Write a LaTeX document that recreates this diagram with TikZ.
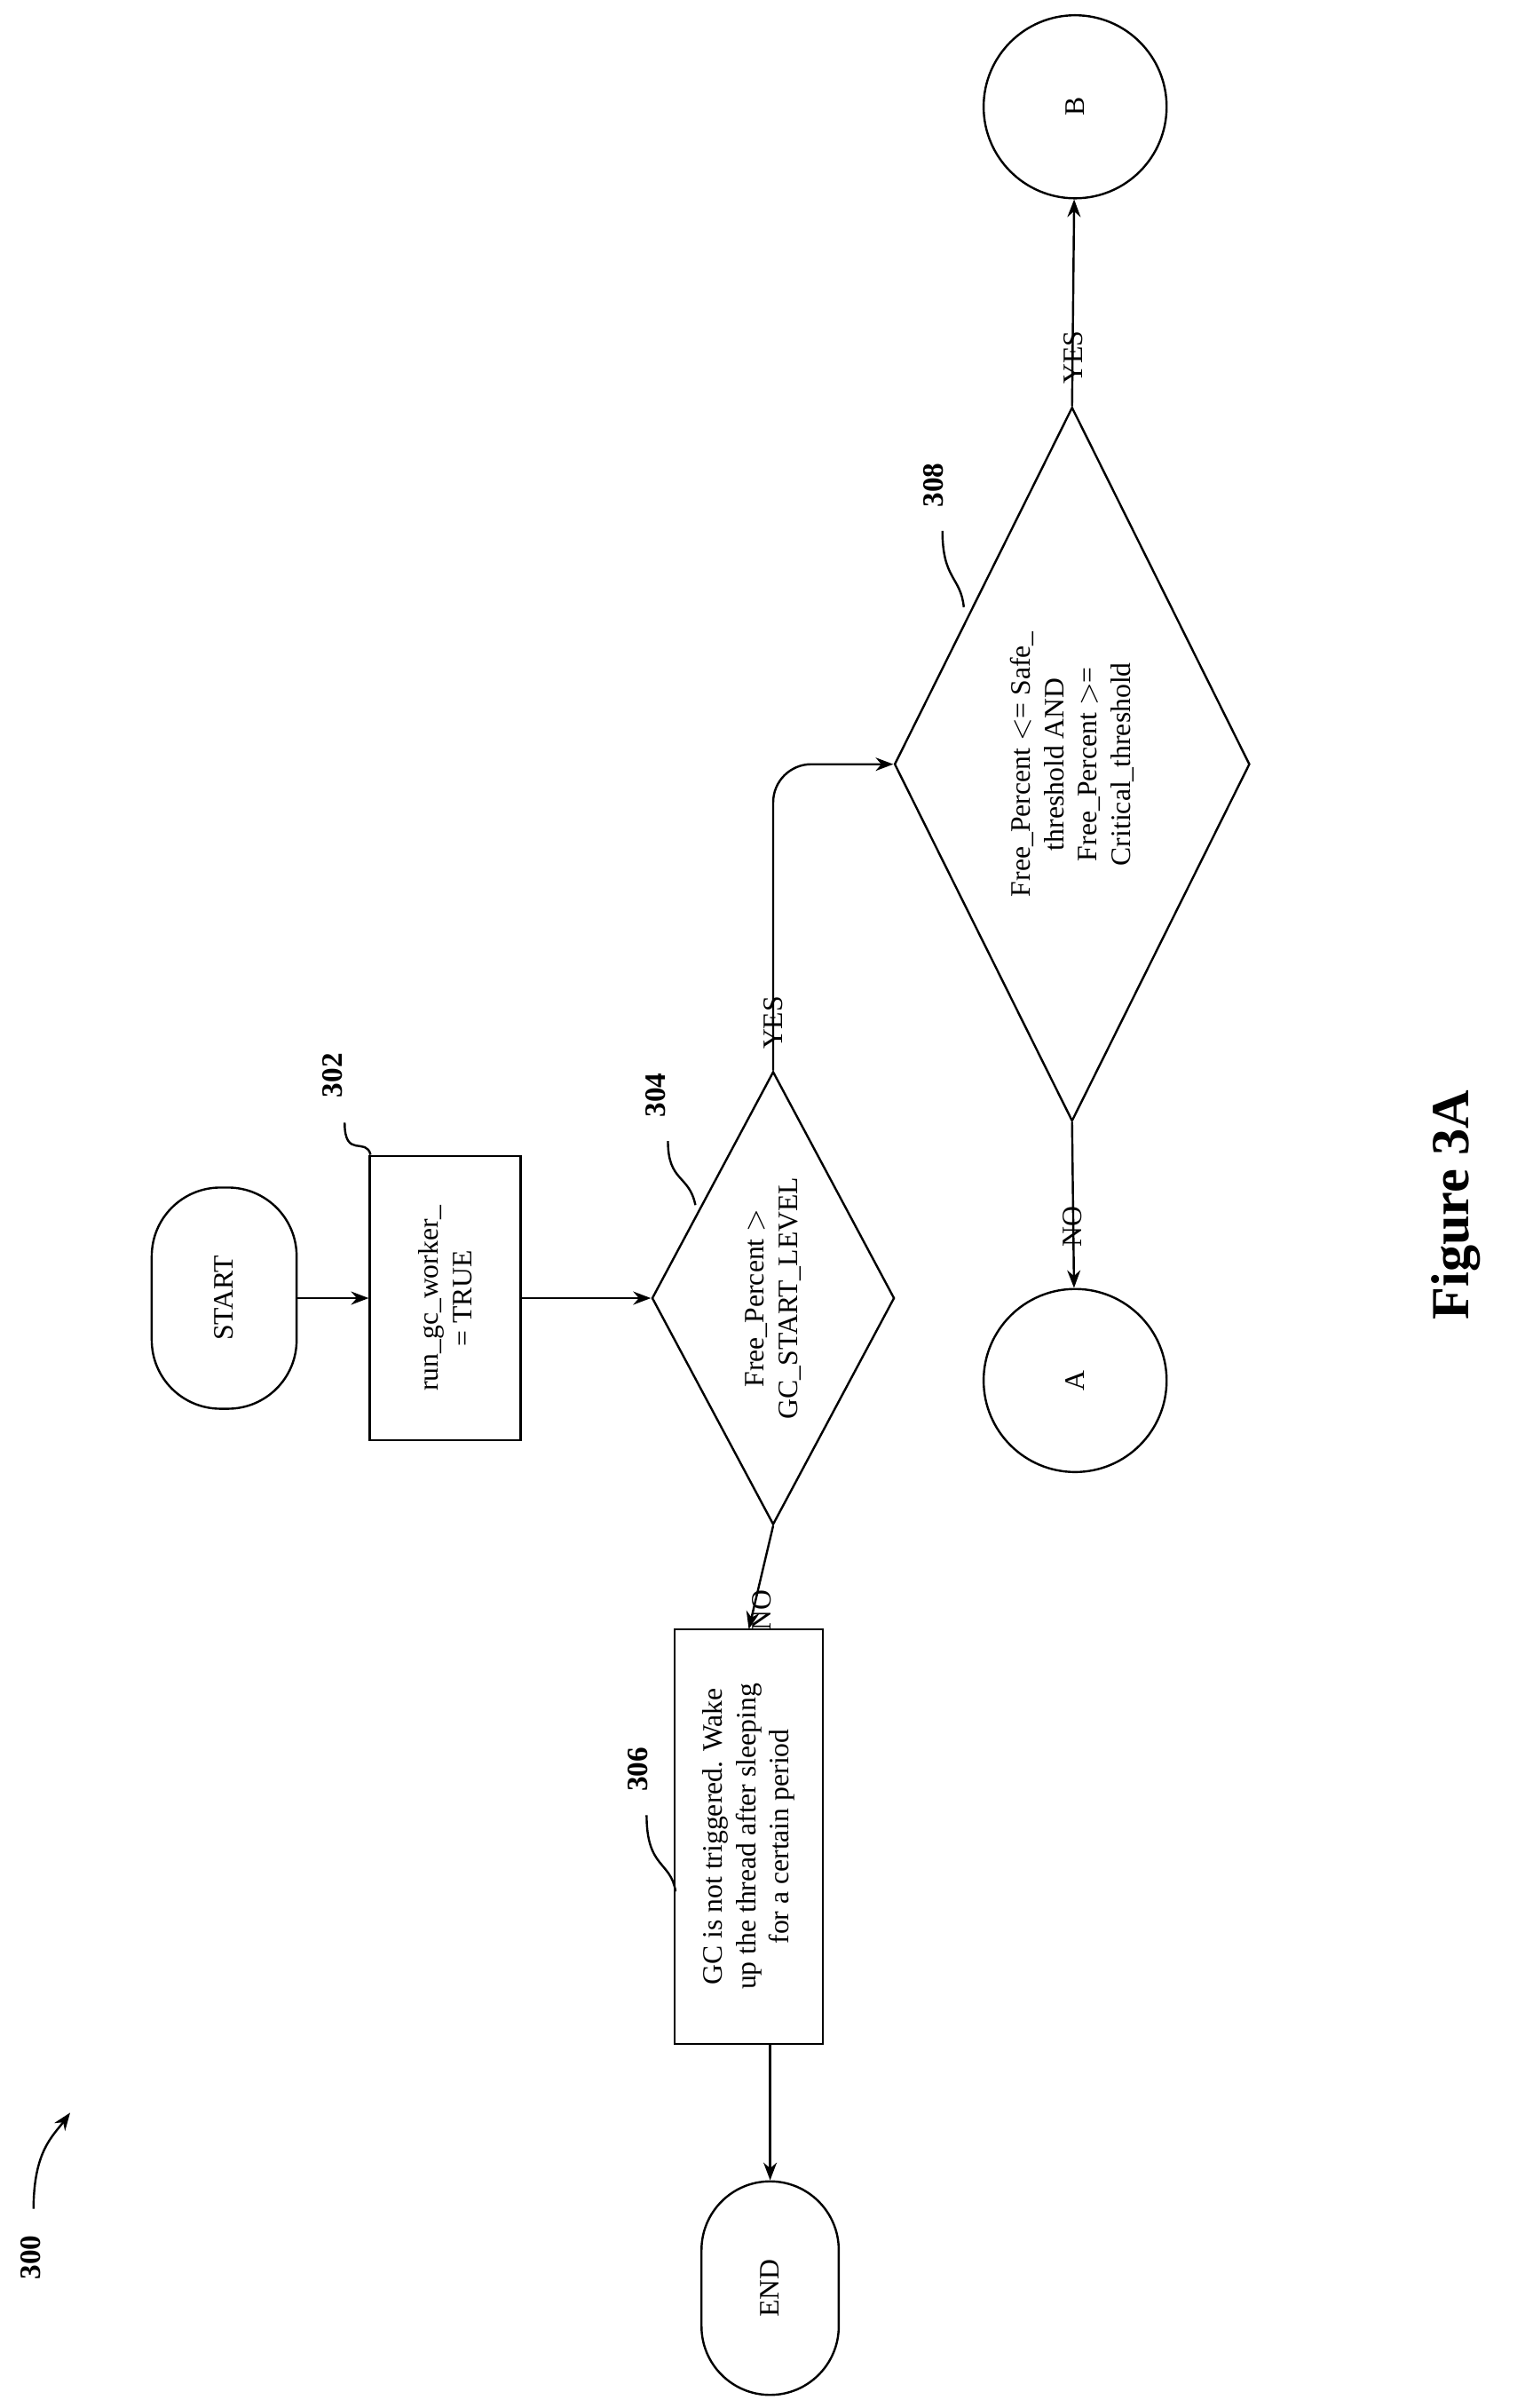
\documentclass[tikz,border=0pt]{standalone}
\usepackage{fontspec}
\setmainfont{Liberation Serif}
\usetikzlibrary{arrows.meta, shapes.geometric}

\begin{document}
\begin{tikzpicture}[x=0.2mm, y=-0.2mm, >=Stealth,
    every node/.style={rotate=90, font=\fontsize{10.5}{12.5}\selectfont, align=center},
    box/.style={draw, thick, inner sep=2pt},
    term/.style={box, rounded corners=9mm},
    dec/.style={draw, thick, diamond, inner sep=0pt},
    conn/.style={draw, thick, circle, minimum size=24mm, inner sep=0pt},
    ref/.style={font=\fontsize{11}{13}\selectfont\bfseries},
    flow/.style={thick, ->}]
    \useasboundingbox (0,0) rectangle (1000,1578.6);

    % shapes
    \node[term, minimum width=29mm, minimum height=19mm] (start) at (147,851) {START};
    \node[box, minimum width=37.2mm, minimum height=19.8mm] (b302) at (292,851) {run\_gc\_worker\_\\= TRUE};
    \node[dec, minimum width=59.4mm, minimum height=31.8mm, aspect=1.87] (d304) at (507,851) {Free\_Percent $>$\\GC\_START\_LEVEL};
    \node[box, minimum width=54.4mm, minimum height=19.4mm] (b306) at (491,1204) {GC is not triggered. Wake\\up the thread after sleeping\\for a certain period};
    \node[term, minimum width=28mm, minimum height=18mm] (end) at (505,1500) {END};
    \node[dec, minimum width=93.6mm, minimum height=46.6mm, aspect=2.0] (d308) at (703,501) {Free\_Percent $<$= Safe\_\\threshold AND\\Free\_Percent $>$=\\Critical\_threshold};
    \node[conn] (A) at (705,905) {A};
    \node[conn] (B) at (705,70) {B};

    % connectors
    \draw[flow] (start) -- (b302);
    \draw[flow] (b302) -- (d304);
    \draw[flow] (d304.west) -- (b306.east |- 507,1068) node[pos=0.45, left=1mm] {NO};
    \draw[flow] (505,1340) -- (end);
    \draw[flow, rounded corners=5mm] (d304.east) -- (507,501) node[pos=0.3, left=1mm] {YES} -- (d308.north);
    \draw[flow] (d308.west) -- (A) node[pos=0.4, left=1mm] {NO};
    \draw[flow] (d308.east) -- (B) node[pos=0.45, left=1mm] {YES};

    % reference numerals
    \node[ref] (n302) at (218,705) {302};
    \draw[thick] (226,736) .. controls (226,760) and (240,745) .. (243,757);
    \node[ref] (n304) at (430,718) {304};
    \draw[thick] (438,748) .. controls (438,775) and (452,770) .. (456,790);
    \node[ref] (n306) at (418,1160) {306};
    \draw[thick] (424,1190) .. controls (424,1225) and (440,1220) .. (443,1240);
    \node[ref] (n308) at (612,318) {308};
    \draw[thick] (618,348) .. controls (618,380) and (630,378) .. (632,398);
    \node[ref] (n300) at (20,1480) {300};
    \draw[thick, ->] (22,1448) .. controls (22,1410) and (35,1400) .. (46,1385);

    \node[font=\fontsize{20}{24}\selectfont\bfseries] (fig) at (955,790) {Figure 3A};
\end{tikzpicture}
\end{document}
